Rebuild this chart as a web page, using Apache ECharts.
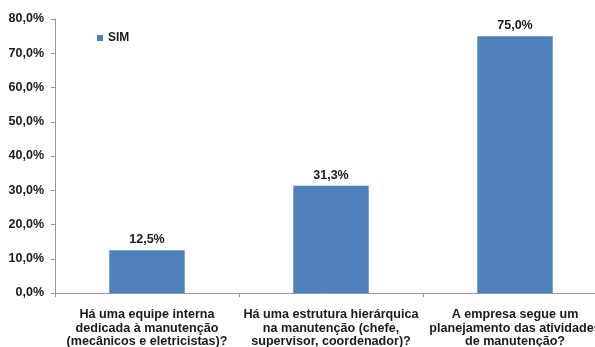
<!DOCTYPE html>
<html>
<head>
<meta charset="utf-8">
<script src="https://cdn.jsdelivr.net/npm/echarts@6/dist/echarts.min.js"></script>
<style>
html,body{margin:0;padding:0;background:#fff;}
#chart{width:595px;height:347px;}
</style>
</head>
<body>
<div id="chart"></div>
<script>
// Survey answers: share of "SIM" responses per question
const categories = [
  'Há uma equipe interna\ndedicada à manutenção\n(mecânicos e eletricistas)?',
  'Há uma estrutura hierárquica\nna manutenção (chefe,\nsupervisor, coordenador)?',
  'A empresa segue um\nplanejamento das atividades\nde manutenção?'
];
const simValues = [12.5, 31.3, 75.0];
const seriesName = 'SIM';

const fmt = v => v.toFixed(1).replace('.', ',') + '%';
const font = 'Liberation Sans, Arial, sans-serif';

const chart = echarts.init(document.getElementById('chart'));
chart.setOption({
  animation: false,
  backgroundColor: '#ffffff',
  legend: {
    data: [seriesName],
    left: 92, top: 27,
    itemWidth: 6, itemHeight: 6, itemGap: 4,
    icon: 'rect',
    textStyle: { fontFamily: font, fontWeight: 'bold', fontSize: 12, color: '#1a1a1a' }
  },
  // the plot runs past the right edge of the canvas
  grid: { left: 55, top: 19, width: 552, height: 274, containLabel: false, outerBoundsMode: 'none' },
  xAxis: {
    type: 'category',
    data: categories,
    axisLine: { lineStyle: { color: '#999' } },
    axisTick: { show: true, length: 4, lineStyle: { color: '#999' } },
    axisLabel: {
      interval: 0, margin: 15,
      fontFamily: font, fontWeight: 'bold', fontSize: 12.6, color: '#1a1a1a', lineHeight: 13.5
    }
  },
  yAxis: {
    type: 'value',
    min: 0, max: 80, interval: 10,
    axisLine: { show: true, lineStyle: { color: '#999' } },
    axisTick: { show: true, length: 4, lineStyle: { color: '#999' } },
    splitLine: { show: false },
    axisLabel: {
      formatter: v => fmt(v), margin: 11,
      fontFamily: font, fontWeight: 'bold', fontSize: 12.5, color: '#1a1a1a'
    }
  },
  series: [{
    name: seriesName,
    type: 'bar',
    data: simValues,
    barWidth: '41%',
    itemStyle: { color: '#4f81bd' },
    label: {
      show: true, position: 'top', distance: 4,
      formatter: p => fmt(p.value),
      fontFamily: font, fontWeight: 'bold', fontSize: 12.5, color: '#1a1a1a'
    }
  }]
});
</script>
</body>
</html>
